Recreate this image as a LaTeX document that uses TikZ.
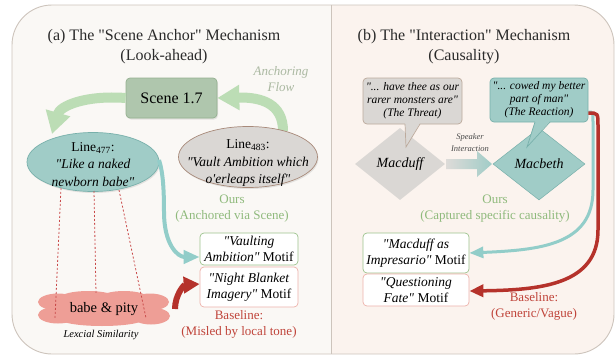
\documentclass[tikz,border=0pt]{standalone}
\usepackage{fontspec}
\setmainfont{Liberation Serif}[Ligatures=TeXOff]
\usetikzlibrary{shapes.geometric,arrows.meta,shadows}
\definecolor{leftbg}{HTML}{FAF8F5}
\definecolor{rightbg}{HTML}{FBF3EE}
\definecolor{panelborder}{HTML}{CDC4BC}
\definecolor{tealfill}{HTML}{A0CCC7}
\definecolor{tealborder}{HTML}{78B0AB}
\definecolor{grayfill}{HTML}{DAD7D4}
\definecolor{grayborder}{HTML}{A88A7A}
\definecolor{bubbleborder}{HTML}{BCAA9C}
\definecolor{sagefill}{HTML}{AFC6AD}
\definecolor{sageborder}{HTML}{94B090}
\definecolor{lgarrow}{HTML}{BCDDB5}
\definecolor{tealarrow}{HTML}{92CDC9}
\definecolor{redarrow}{HTML}{B5322B}
\definecolor{greentext}{HTML}{8FBA7C}
\definecolor{redtext}{HTML}{C0443A}
\definecolor{dashred}{HTML}{C94A4A}
\definecolor{cloudfill}{HTML}{EE9E96}
\definecolor{motifgreen}{HTML}{9DC38D}
\definecolor{motifpink}{HTML}{EDB2AA}
\definecolor{flowtext}{HTML}{ABB9A2}
\definecolor{titletext}{HTML}{2A2A2A}
\newcommand{\fs}[2]{\fontsize{#1}{#2}\selectfont}
\begin{document}
\begin{tikzpicture}[x=1pt,y=-1pt,
  title/.style={align=center,text=titletext,font=\fs{16}{20}},
  softshadow/.style={drop shadow={opacity=0.18,shadow xshift=1pt,shadow yshift=-1.5pt}},
  ellnode/.style={ellipse,draw,line width=0.7pt,inner sep=0pt,softshadow},
  elltext/.style={align=center,font=\fs{13.5}{17.5}},
  motif/.style={draw,fill=white,rounded corners=4pt,line width=0.7pt,inner sep=0pt,align=center,font=\fs{13.5}{16}},
  bubble/.style={draw,rounded corners=4pt,line width=0.7pt,inner sep=0pt,align=center,font=\fs{11.5}{13.2}\itshape},
  dia/.style={diamond,inner sep=0pt,font=\fs{14}{16}\itshape},
  greenlbl/.style={text=greentext,align=center,font=\fs{13}{16}},
  redlbl/.style={text=redtext,align=center,font=\fs{13}{16}},
  dashline/.style={draw=dashred,line width=0.8pt,dash pattern=on 2pt off 2pt},
  bigarrow/.style={draw=lgarrow,line width=10pt,-{Triangle[length=22pt,width=24pt]}}
]
\useasboundingbox (0,0) rectangle (616,356);
% panels
\fill[leftbg] (331,5) [rounded corners=40pt] -- (12,5) -- (12,354) [sharp corners] -- (331,354) -- cycle;
\fill[rightbg] (331,5) [rounded corners=40pt] -- (614,5) -- (614,354) [sharp corners] -- (331,354) -- cycle;
\draw[panelborder,line width=0.9pt] (331,5) [rounded corners=40pt] -- (12,5) -- (12,354) -- (614,354) -- (614,5) [sharp corners] -- cycle;
\draw[panelborder,line width=0.9pt] (331,5) -- (331,354);

% titles
\node[title] (ta) at (164,47) {(a) The "Scene Anchor" Mechanism\\(Look-ahead)};
\node[title] (tb) at (464,47) {(b) The "Interaction" Mechanism\\(Causality)};

% ---------- left panel ----------
\node[draw=sageborder,fill=sagefill,rounded corners=4pt,line width=0.7pt,minimum width=91pt,minimum height=40pt,inner sep=0pt,font=\fs{16}{18},softshadow] (scene) at (171.5,98) {Scene 1.7};
\node[text=flowtext,align=center,font=\fs{13}{16}\itshape] (flow) at (281,79) {Anchoring\\Flow};

\coordinate (s483) at (283,131);
\coordinate (e477) at (52,134);
\draw[bigarrow] (s483) .. controls (283,104) and (262,97) .. (scene.east);
\draw[bigarrow] (scene.west) .. controls (85,95) and (60,106) .. (e477);

% dashed lexical lines (behind ellipse)
\coordinate (d1a) at (61,188); \coordinate (d1b) at (55,318);
\coordinate (d2a) at (94,191); \coordinate (d2b) at (96,293);
\coordinate (d3a) at (119,190); \coordinate (d3b) at (146,318);

\node[ellnode,draw=tealborder,fill=tealfill,minimum width=132pt,minimum height=59pt] (l477) at (93,162) {};
\node[elltext] (l477t) at (93,164.5) {Line\textsubscript{477}:\\\textit{"Like a naked}\\\textit{newborn babe"}};
\node[ellnode,draw=grayborder,fill=grayfill,minimum width=139pt,minimum height=61pt] (l483) at (248,157) {};
\node[elltext] (l483t) at (248,163) {Line\textsubscript{483}:\\\textit{"Vault Ambition which}\\\textit{o'erleaps itself"}};

\node[greenlbl] (oursa) at (232,209) {Ours\\(Anchored via Scene)};

\node[motif,draw=motifgreen,minimum width=98pt,minimum height=32pt] (vault) at (249,249)
  {\textit{"Vaulting}\\\textit{Ambition"} Motif};
\node[motif,draw=motifpink,minimum width=98pt,minimum height=40pt] (night) at (249,287)
  {\textit{"Night Blanket}\\\textit{Imagery"} Motif};

\coordinate (t477) at (159,160);
\draw[tealarrow,line width=4pt,-{Triangle[length=16pt,width=13pt]}] (t477) .. controls (163,172) and (164,190) .. (164,212) .. controls (164,245) and (178,257) .. (vault.west |- 0,257);

% cloud
\fill[cloudfill] (104,308) ellipse [x radius=48pt,y radius=13pt];
\fill[cloudfill] (58,302) ellipse [x radius=20pt,y radius=8.5pt];
\fill[cloudfill] (58,315) ellipse [x radius=20pt,y radius=8.5pt];
\fill[cloudfill] (150,302) ellipse [x radius=19pt,y radius=8.5pt];
\fill[cloudfill] (151,316) ellipse [x radius=19pt,y radius=8.5pt];
\fill[cloudfill] (88,298) ellipse [x radius=28pt,y radius=7pt];
\fill[cloudfill] (124,298) ellipse [x radius=24pt,y radius=7pt];
\fill[cloudfill] (102,319) ellipse [x radius=42pt,y radius=7pt];
\node[font=\fs{14.5}{16}] (babe) at (104,309) {babe \& pity};
\node[font=\fs{10.5}{12}\itshape] (lex) at (101,335) {Lexcial Similarity};

\draw[dashline] (d1a) -- (d1b);
\draw[dashline] (d2a) -- (d2b);
\draw[dashline] (d3a) -- (d3b);

\coordinate (rs) at (175,309);
\draw[redarrow,line width=6pt,-{Triangle[length=16pt,width=16pt]}] (rs) .. controls (175,295) and (184,285) .. (night.west |- 0,284);
\node[redlbl] (basea) at (239,324) {Baseline:\\(Misled by local tone)};

% ---------- right panel ----------
\node[dia,fill=grayfill,minimum width=90pt,minimum height=72pt] (macduff) at (400,164) {Macduff};
\node[dia,fill=tealfill,draw=tealborder,line width=0.5pt,minimum width=92pt,minimum height=72pt] (macbeth) at (539,164) {Macbeth};

% bubbles
\node[bubble,fill=grayfill,draw=bubbleborder,minimum width=99pt,minimum height=46pt] (bub1) at (412.5,101)
  {"... have thee as our\\rarer monsters are"\\(The Threat)};
\fill[grayfill] (405,123) -- (420,123) -- (406,147) -- cycle;
\draw[bubbleborder,line width=0.7pt] (405,124) -- (406,147) -- (420,124);

\node[bubble,fill=tealfill,draw=tealborder,minimum width=98pt,minimum height=44pt] (bub2) at (539,100)
  {"... cowed my better\\part of man"\\(The Reaction)};
\fill[tealfill] (535,121) -- (550,121) -- (527,147) -- cycle;
\draw[tealborder,line width=0.7pt] (535,122) -- (527,147) -- (550,122);

% speaker interaction arrow
\shade[left color=grayfill!90!white,right color=tealfill]
  (446,159) -- (477,159) -- (477,151) -- (492,164) -- (477,177) -- (477,169) -- (446,169) -- cycle;
\node[align=center,text=titletext!85,font=\fs{8.5}{12}\itshape] (spk) at (470,143) {Speaker\\Interaction};

\node[greenlbl] (oursb) at (495,209) {Ours\\(Captured specific causality)};

\node[motif,draw=motifgreen,minimum width=106pt,minimum height=40pt] (impr) at (416,253)
  {\textit{"Macduff as}\\\textit{Impresario"} Motif};
\node[motif,draw=motifpink,minimum width=106pt,minimum height=32pt] (quest) at (416,290)
  {\textit{"Questioning}\\\textit{Fate"} Motif};

\draw[tealarrow,line width=3pt,-{Triangle[length=14pt,width=11pt]}] (bub2.east |- 0,112) .. controls (593,112) .. (593,124) -- (593,190) .. controls (593,245) and (540,250) .. (impr.east);
\draw[redarrow,line width=3.5pt,-{Triangle[length=14pt,width=12pt]}] (bub2.east |- 0,113) .. controls (598,113) .. (598,126) -- (598,230) .. controls (598,285) and (540,290) .. (quest.east |- 0,291);

\node[redlbl] (baseb) at (534,306) {Baseline:\\(Generic/Vague)};
\end{tikzpicture}
\end{document}
